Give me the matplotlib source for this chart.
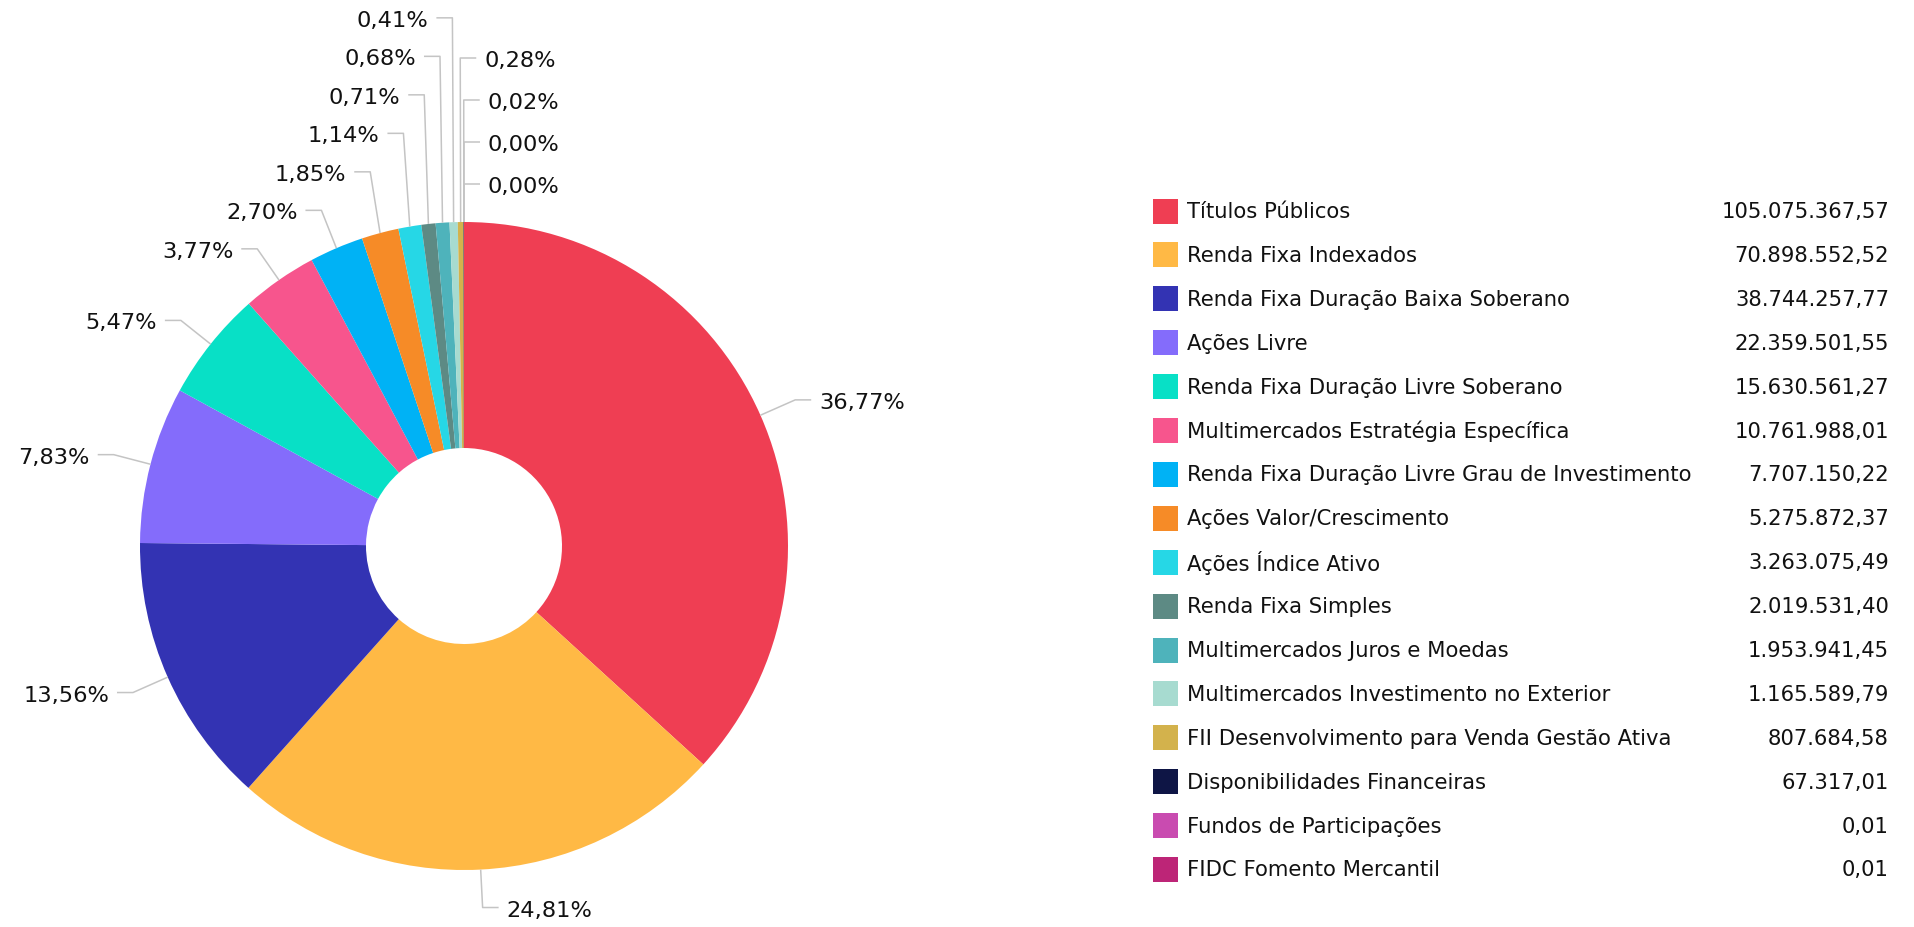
import numpy as np
import matplotlib
matplotlib.use("Agg")
import matplotlib.pyplot as plt

categories = [
    "Títulos Públicos",
    "Renda Fixa Indexados",
    "Renda Fixa Duração Baixa Soberano",
    "Ações Livre",
    "Renda Fixa Duração Livre Soberano",
    "Multimercados Estratégia Específica",
    "Renda Fixa Duração Livre Grau de Investimento",
    "Ações Valor/Crescimento",
    "Ações Índice Ativo",
    "Renda Fixa Simples",
    "Multimercados Juros e Moedas",
    "Multimercados Investimento no Exterior",
    "FII Desenvolvimento para Venda Gestão Ativa",
    "Disponibilidades Financeiras",
    "Fundos de Participações",
    "FIDC Fomento Mercantil",
]
values = [
    105075367.57, 70898552.52, 38744257.77, 22359501.55, 15630561.27,
    10761988.01, 7707150.22, 5275872.37, 3263075.49, 2019531.40,
    1953941.45, 1165589.79, 807684.58, 67317.01, 0.01, 0.01,
]
colors = [
    "#EF3E53", "#FFB945", "#3333B3", "#846CFB", "#08E0C6", "#F7558D",
    "#00B2F5", "#F68B27", "#26D7E6", "#5D8A84", "#4EB3BB", "#A7DBD0",
    "#D3B24C", "#0E1545", "#C94BB0", "#BD2577",
]

W, H = 1914, 927
plt.rcParams['font.family'] = ['DejaVu Sans']
fig = plt.figure(figsize=(W / 100, H / 100), dpi=100)
ax = fig.add_axes([0, 0, 1, 1])

cx, cy_pix = 464, 546
r_out, r_in = 324, 98
R_lab = 362
FS_LAB = 16.2
FS_LEG = 15.2
TXT = "#111111"

def py(y_pix):
    return H - y_pix

ax.pie(values, colors=colors, startangle=90, counterclock=False,
       radius=r_out, center=(cx, py(cy_pix)),
       wedgeprops=dict(width=r_out - r_in, linewidth=0))

vals = np.array(values, dtype=float)
frac = vals / vals.sum()
cum = np.cumsum(frac) - frac
mid = cum + frac / 2
theta = 2 * np.pi * mid  # clockwise from top

nat_x = cx + R_lab * np.sin(theta)
nat_y = cy_pix - R_lab * np.cos(theta)
left = np.sin(theta) < -0.02

spacing = {True: 38.5, False: 42.0}
top_lim, bot_lim = 15, H - 15
lab_y = nat_y.copy()
for side in (True, False):
    idx = [i for i in range(len(vals)) if left[i] == side]
    if side:
        idx.sort(key=lambda i: -theta[i])
    else:
        idx.sort(key=lambda i: (theta[i] - 2 * np.pi) if theta[i] > np.pi else theta[i])
    s = spacing[side]
    prev = None
    for i in reversed(idx):
        y = min(nat_y[i], bot_lim) if prev is None else min(nat_y[i], prev - s)
        lab_y[i] = y
        prev = y
    prev = None
    for i in idx:
        lab_y[i] = max(lab_y[i], top_lim) if prev is None else max(lab_y[i], prev + s)
        prev = lab_y[i]

for i in range(len(vals)):
    sgn = -1 if left[i] else 1
    ex = cx + r_out * np.sin(theta[i])
    ey = cy_pix - r_out * np.cos(theta[i])
    bx = nat_x[i]
    ly = lab_y[i]
    ax.plot([ex, bx, bx + sgn * 16], [py(ey), py(ly), py(ly)],
            color="#C4C4C4", lw=1.1, solid_capstyle="butt", zorder=1)
    pct = f"{frac[i] * 100:.2f}".replace(".", ",") + "%"
    ax.text(bx + sgn * 24, py(ly + 3), pct, ha="right" if left[i] else "left",
            va="center", fontsize=FS_LAB, color=TXT)

# legend
leg_x0 = 1153
sq = 25
row0 = 211
row_h = 43.9
val_right = 1889
for k, (name, v, c) in enumerate(zip(categories, values, colors)):
    yc = row0 + k * row_h
    ax.add_patch(plt.Rectangle((leg_x0, py(yc + sq / 2)), sq, sq,
                               facecolor=c, edgecolor="none"))
    ax.text(leg_x0 + sq + 9, py(yc + 1), name, ha="left", va="center",
            fontsize=FS_LEG, color=TXT)
    s = f"{v:,.2f}".replace(",", "X").replace(".", ",").replace("X", ".")
    ax.text(val_right, py(yc + 1), s, ha="right", va="center",
            fontsize=FS_LEG, color=TXT)

ax.set_xlim(0, W)
ax.set_ylim(0, H)
ax.set_aspect("equal")
ax.axis("off")
fig.savefig("out.png", dpi=100, facecolor="white")
